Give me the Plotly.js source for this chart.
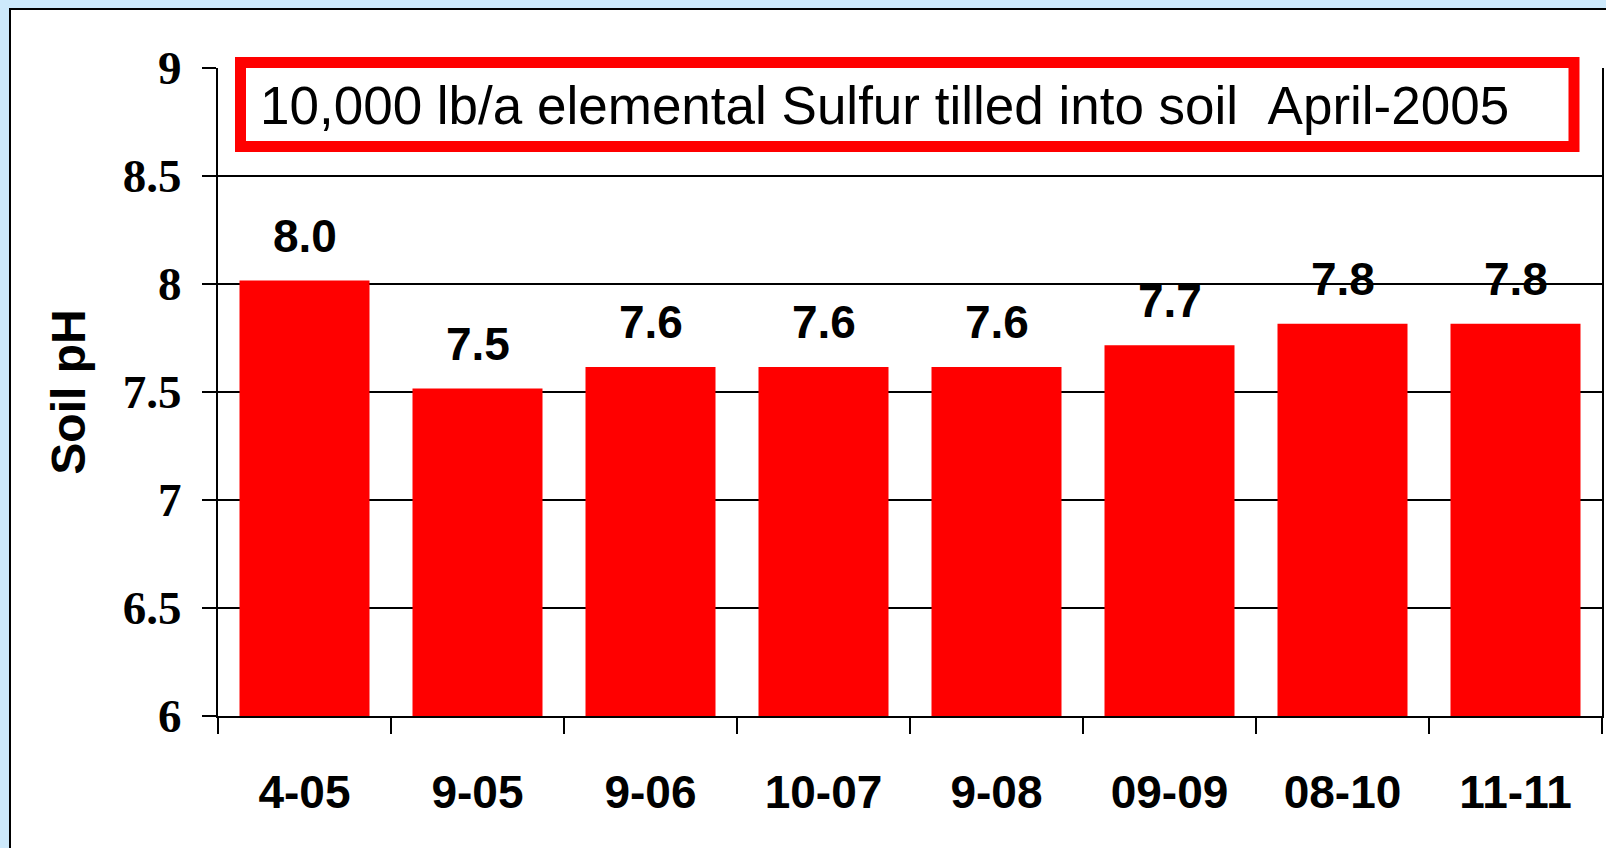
<!DOCTYPE html>
<html>
<head>
<meta charset="utf-8">
<script src="https://cdn.plot.ly/plotly-3.0.1.min.js"></script>
<style>
  html, body { margin: 0; padding: 0; width: 1606px; height: 848px; overflow: hidden; background: #cde9fb; }
  #frame { position: absolute; left: 9px; top: 8px; width: 1640px; height: 900px; background: #ffffff; border: 2px solid #000000; }
  #chart { position: absolute; left: 0; top: 0; width: 1606px; height: 848px; }
</style>
</head>
<body>
<div id="frame"></div>
<div id="chart"></div>
<script>
// ---- data ----
const categories = ['4-05', '9-05', '9-06', '10-07', '9-08', '09-09', '08-10', '11-11'];
const phValues = [8.0, 7.5, 7.6, 7.6, 7.6, 7.7, 7.8, 7.8];
const barLabels = phValues.map(v => v.toFixed(1));
const yAxisTitle = 'Soil pH';
const noteText = '10,000 lb/a elemental Sulfur tilled into soil \u00a0April-2005';

// ---- geometry helpers (layout only) ----
const W = 1606, H = 848;
const mL = 218, mR = 4, mT = 68, mB = 132;
const pw = W - mL - mR, ph = H - mT - mB;
const px2x = p => (p - mL) / pw;
const px2y = p => (H - mB - p) / ph;

const trace = {
  type: 'bar',
  x: categories,
  y: phValues,
  marker: { color: '#ff0000', line: { color: '#ff0000', width: 7 } },
  hoverinfo: 'skip'
};

const labelAnnotations = categories.map((c, i) => ({
  x: c, y: phValues[i], xref: 'x', yref: 'y',
  text: barLabels[i], showarrow: false,
  yanchor: 'bottom', yshift: 20,
  font: { family: 'Liberation Sans, Arial, sans-serif', size: 46, color: '#000000', weight: 'bold' }
}));

const layout = {
  width: W, height: H,
  margin: { l: mL, r: mR, t: mT, b: mB, pad: 0 },
  paper_bgcolor: 'rgba(0,0,0,0)',
  plot_bgcolor: 'rgba(0,0,0,0)',
  showlegend: false,
  bargap: 0.289,
  xaxis: {
    type: 'category',
    showline: true, linecolor: '#000000', linewidth: 2,
    ticks: 'outside', tickson: 'boundaries', ticklen: 16, tickwidth: 2, tickcolor: '#000000',
    ticklabelstandoff: 35,
    showgrid: false, zeroline: false,
    tickfont: { family: 'Liberation Sans, Arial, sans-serif', size: 46, color: '#000000', weight: 'bold' },
    fixedrange: true
  },
  yaxis: {
    range: [6, 9], dtick: 0.5, tick0: 6,
    showline: true, linecolor: '#000000', linewidth: 2, mirror: true,
    ticks: 'outside', ticklen: 14, tickwidth: 2, tickcolor: '#000000',
    ticklabelstandoff: 11,
    showgrid: true, gridcolor: '#000000', gridwidth: 2,
    zeroline: false,
    tickfont: { family: 'Liberation Serif, Times New Roman, serif', size: 47, color: '#000000', weight: 'bold' },
    title: { text: yAxisTitle, standoff: 22,
      font: { family: 'Liberation Sans, Arial, sans-serif', size: 48, color: '#000000', weight: 'bold' } },
    fixedrange: true
  },
  shapes: [{
    type: 'rect', xref: 'paper', yref: 'paper', layer: 'above',
    x0: px2x(240.5), x1: px2x(1574), y0: px2y(146.5), y1: px2y(62.5),
    line: { color: '#ff0000', width: 11 }, fillcolor: '#ffffff'
  }],
  annotations: labelAnnotations.concat([{
    xref: 'paper', yref: 'paper', x: px2x(258), y: px2y(105),
    xanchor: 'left', yanchor: 'middle', showarrow: false,
    text: noteText,
    font: { family: 'Liberation Sans, Arial, sans-serif', size: 53, color: '#000000' }
  }])
};

Plotly.newPlot('chart', [trace], layout, { displayModeBar: false, staticPlot: true });
</script>
</body>
</html>
